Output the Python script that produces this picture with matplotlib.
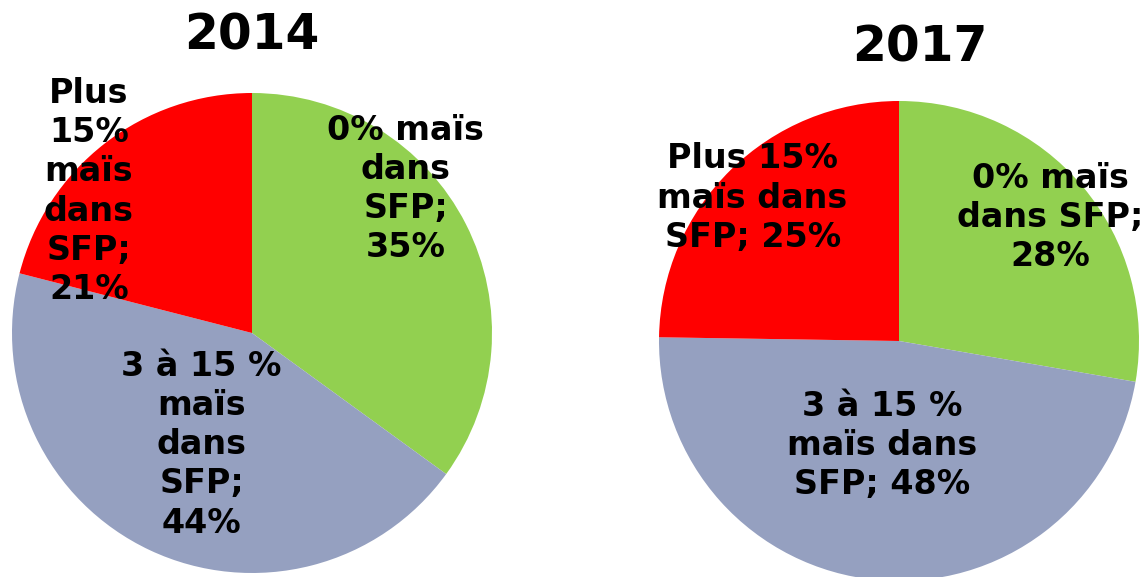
import matplotlib
matplotlib.use("Agg")
from matplotlib import pyplot as plt

# data
years = ["2014", "2017"]
categories = ["0% maïs dans SFP", "3 à 15 % maïs dans SFP", "Plus 15% maïs dans SFP"]
values_2014 = [35, 44, 21]
values_2017 = [28, 48, 25]
labels_2014 = ["0% maïs\ndans\nSFP;\n35%", "3 à 15 %\nmaïs\ndans\nSFP;\n44%", "Plus\n15%\nmaïs\ndans\nSFP;\n21%"]
labels_2017 = ["0% maïs\ndans SFP;\n28%", "3 à 15 %\nmaïs dans\nSFP; 48%", "Plus 15%\nmaïs dans\nSFP; 25%"]
colors = ["#92D050", "#95A0C0", "#FF0000"]

W, H = 1145, 577
fig = plt.figure(figsize=(W / 100, H / 100), dpi=100)

def pie_axes(cx, cy, r):
    # pixel centre (from top) and radius -> figure coords
    return fig.add_axes([(cx - r) / W, (H - cy - r) / H, 2 * r / W, 2 * r / H])

# label positions relative to centre, in radius units
pos_2014 = [(0.64, 0.60), (-0.21, -0.465), (-0.68, 0.59)]
pos_2017 = [(0.63, 0.515), (-0.07, -0.435), (-0.61, 0.595)]

panels = [
    (252, 333, values_2014, labels_2014, pos_2014, "2014", 252, 35),
    (899, 341, values_2017, labels_2017, pos_2017, "2017", 920, 47),
]

for cx, cy, vals, labs, pos, year, tx, ty in panels:
    ax = pie_axes(cx, cy, 240)
    ax.pie(vals, colors=colors, startangle=90, counterclock=False, radius=1,
           wedgeprops=dict(linewidth=0))
    ax.set_xlim(-1, 1)
    ax.set_ylim(-1, 1)
    ax.set_aspect("equal")
    ax.axis("off")
    for lab, (dx, dy) in zip(labs, pos):
        ax.text(dx, dy, lab, ha="center", va="center", fontsize=24,
                fontweight="bold", linespacing=1.24, color="black")
    fig.text(tx / W, 1 - ty / H, year, ha="center", va="center",
             fontsize=35, fontweight="bold")

fig.savefig("out.png", dpi=100)
